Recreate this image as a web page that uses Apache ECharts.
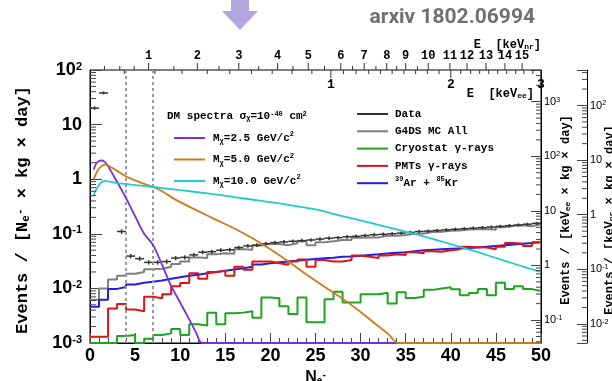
<!DOCTYPE html>
<html>
<head>
<meta charset="utf-8">
<script src="https://cdn.jsdelivr.net/npm/echarts@6/dist/echarts.min.js"></script>
<style>
  html, body { margin: 0; padding: 0; background: #fff; }
  #chart { width: 612px; height: 381px; }
</style>
</head>
<body>
<div id="chart"></div>
<script>
// ---- Binned spectra: bins of width 1 N_e- starting at each edge ----
const BIN_EDGES = [0,1,2,3,4,5,6,7,8,9,10,11,12,13,14,15,16,17,18,19,20,21,22,23,24,25,26,27,28,29,30,31,32,33,34,35,36,37,38,39,40,41,42,43,44,45,46,47,48,49];
const BIN_WIDTH = 1;

const DATA_VALS = [20, 38, null, 0.11, 0.039, 0.035, 0.030, 0.030, 0.031, 0.036, 0.037, 0.041, 0.046, 0.047, 0.050, 0.051, 0.056, 0.060, 0.062, 0.066, 0.069, 0.071, 0.073, 0.075, 0.077, 0.080, 0.083, 0.085, 0.088, 0.090, 0.093, 0.096, 0.098, 0.100, 0.103, 0.106, 0.110, 0.112, 0.115, 0.118, 0.121, 0.124, 0.127, 0.130, 0.133, 0.137, 0.141, 0.145, 0.150, 0.155];
const DATA_ERR = [0.6, 0.9, null, 0.006, 0.002, 0.002, 0.0015, 0.0015, 0.0015, 0.0017, 0.0017, 0.0018, 0.002, 0.002, 0.002, 0.002, 0.0022, 0.0023, 0.0023, 0.0024, 0.0025, 0.0025, 0.0026, 0.0026, 0.0027, 0.0027, 0.0028, 0.0028, 0.0029, 0.0029, 0.003, 0.003, 0.003, 0.0031, 0.0031, 0.0032, 0.0032, 0.0033, 0.0033, 0.0034, 0.0034, 0.0035, 0.0035, 0.0036, 0.0036, 0.0037, 0.0037, 0.0038, 0.0038, 0.0039];

const G4DS_ALL = [0.0062, 0.0100, 0.0145, 0.0170, 0.0185, 0.020, 0.0225, 0.023, 0.025, 0.028, 0.031, 0.037, 0.036, 0.042, 0.044, 0.043, 0.052, 0.051, 0.061, 0.066, 0.065, 0.062, 0.067, 0.073, 0.062, 0.070, 0.073, 0.077, 0.077, 0.085, 0.086, 0.086, 0.092, 0.092, 0.095, 0.100, 0.101, 0.108, 0.109, 0.114, 0.115, 0.120, 0.121, 0.123, 0.119, 0.132, 0.141, 0.143, 0.138, 0.149];
const CRYOSTAT = [0.001, 0.001, 0.001, 0.00135, 0.0014, 0.001, 0.0012, 0.0014, 0.0015, 0.0018, 0.0014, 0.0022, 0.0021, 0.0036, 0.0022, 0.0035, 0.0036, 0.0038, 0.0029, 0.0068, 0.0066, 0.0047, 0.0034, 0.0068, 0.0024, 0.0024, 0.0063, 0.0087, 0.0055, 0.0055, 0.0078, 0.0078, 0.0083, 0.0053, 0.0085, 0.0067, 0.0070, 0.0094, 0.0100, 0.0105, 0.0096, 0.0075, 0.0082, 0.0097, 0.0075, 0.0127, 0.0097, 0.0110, 0.0097, 0.0090];
const PMTS = [0.0013, 0.0013, 0.0043, 0.0052, 0.0041, 0.0038, 0.0070, 0.0066, 0.0078, 0.011, 0.0125, 0.019, 0.015, 0.020, 0.021, 0.017, 0.025, 0.022, 0.031, 0.031, 0.029, 0.027, 0.031, 0.034, 0.025, 0.033, 0.031, 0.031, 0.033, 0.040, 0.038, 0.036, 0.040, 0.042, 0.041, 0.046, 0.044, 0.048, 0.047, 0.050, 0.052, 0.058, 0.057, 0.056, 0.052, 0.058, 0.068, 0.066, 0.060, 0.070];
const AR_KR = [0.0046, 0.0062, 0.0098, 0.0106, 0.0118, 0.0127, 0.0133, 0.0140, 0.0150, 0.0160, 0.0170, 0.0178, 0.0190, 0.0200, 0.0210, 0.0222, 0.0235, 0.0250, 0.0275, 0.0290, 0.0300, 0.0310, 0.0320, 0.0335, 0.0345, 0.0355, 0.0365, 0.0380, 0.0385, 0.0395, 0.041, 0.042, 0.0435, 0.045, 0.046, 0.048, 0.050, 0.051, 0.052, 0.053, 0.054, 0.055, 0.056, 0.058, 0.060, 0.062, 0.064, 0.066, 0.068, 0.070];

// ---- Dark matter signal spectra (sigma = 1e-40 cm^2) ----
const DM25_NE  = [0.4, 0.7, 1.0, 1.3, 1.6, 2.0, 2.5, 3.0, 4.0, 5.0, 6.0, 7.0, 8.0, 9.0, 10.0, 11.0, 11.8, 12.4, 50];
const DM25_VAL = [1.5, 1.95, 2.15, 2.2, 2.1, 1.75, 1.25, 0.9, 0.45, 0.21, 0.1, 0.062, 0.027, 0.011, 0.0055, 0.0027, 0.0015, 0.001, 0.001];
const DM50_NE  = [0.4, 0.8, 1.2, 1.7, 2.5, 3, 4, 5, 6, 7, 8, 9, 10, 12, 14, 16, 18, 20, 22, 24, 26, 28, 30, 32, 33, 34.2, 50];
const DM50_VAL = [1.0, 1.4, 1.7, 1.85, 1.6, 1.42, 1.12, 0.95, 0.82, 0.72, 0.6, 0.47, 0.38, 0.26, 0.18, 0.125, 0.083, 0.052, 0.031, 0.018, 0.0107, 0.0065, 0.0037, 0.002, 0.0015, 0.001, 0.001];
const DM100_NE  = [0.4, 0.8, 1.2, 1.7, 2.5, 3, 4, 5, 6, 7, 10, 13, 16, 19, 22, 25, 28, 31, 34, 37, 40, 43, 46, 48, 50];
const DM100_VAL = [0.5, 0.7, 0.86, 0.93, 0.88, 0.85, 0.82, 0.78, 0.75, 0.72, 0.63, 0.55, 0.47, 0.4, 0.34, 0.28, 0.21, 0.16, 0.12, 0.09, 0.065, 0.046, 0.032, 0.025, 0.02];

// ---- Secondary energy scales along the top edge (tick value -> N_e- position) ----
const KEVNR_LABELS = [1, 2, 3, 4, 5, 6, 7, 8, 9, 10, 11, 12, 13, 14, 15];
const KEVNR_NE     = [6.5, 11.9, 16.5, 20.8, 24.2, 27.8, 30.4, 32.9, 35.0, 37.5, 39.9, 41.8, 43.9, 46.0, 47.9];
const KEVNR_MINOR_NE = [1.6, 3.3, 4.9, 9.3, 14.3, 18.7, 22.5, 26.0, 29.1, 31.7, 34.0, 36.3];
const KEVEE_LABELS = [1, 2, 3];
const KEVEE_NE     = [26.7, 40.0, 50.0];
const KEVEE_MINOR_NE = [3.8, 7.2, 10.2, 13.0, 15.5, 17.9, 20.2, 22.4, 24.6,
                        28.1, 29.5, 30.9, 32.2, 33.5, 34.8, 36.1, 37.4, 38.7,
                        41.1, 42.2, 43.2, 44.2, 45.2, 46.2, 47.2, 48.1, 49.1];

// ---- Threshold markers ----
const THRESHOLDS_NE = [4, 7];

// ---- Right-hand axis ranges (log10 of the values at the bottom / top of the frame) ----
const KEVEE_LOG_RANGE = [-1.42, 3.58];
const KEVNR_LOG_RANGE = [-2.35, 2.65];

const Y_MIN = 0.001, Y_MAX = 100, X_MIN = 0, X_MAX = 50;
const RIGHT2_OFFSET = 46;

const MONO = '"Liberation Mono", "DejaVu Sans Mono", monospace';
const SANS = '"Liberation Sans", Arial, sans-serif';

function stepData(vals) {
  const d = vals.map((v, i) => [BIN_EDGES[i], v]);
  d.push([BIN_EDGES[BIN_EDGES.length - 1] + BIN_WIDTH, vals[vals.length - 1]]);
  return d;
}
function pairs(xs, ys) { return xs.map((x, i) => [x, ys[i]]); }
function logMinor(lo, hi) {
  const out = [];
  for (let e = Math.floor(Math.log10(lo)); e <= Math.ceil(Math.log10(hi)); e++) {
    for (let m = 2; m <= 9; m++) {
      const v = m * Math.pow(10, e);
      if (v > lo * 1.0001 && v < hi * 0.9999) out.push(v);
    }
  }
  return out;
}
function powLabel(v) {
  const l = Math.log10(v);
  const r = Math.round(l);
  if (Math.abs(l - r) > 1e-6) return '';
  if (r === 0) return '1';
  if (r === 1) return '10';
  return '10{sup|' + r + '}';
}

const chart = echarts.init(document.getElementById('chart'), null, { renderer: 'canvas' });

const histLine = (name, vals, color, width) => ({
  name, type: 'line', step: 'end', data: stepData(vals), symbol: 'none',
  lineStyle: { color, width }, itemStyle: { color }, clip: true, silent: true, z: 3
});
const curve = (name, xs, ys, color) => ({
  name, type: 'line', data: pairs(xs, ys), symbol: 'none', smooth: 0.25,
  lineStyle: { color, width: 1.8 }, itemStyle: { color }, clip: true, silent: true, z: 5
});

function minorTickSeries(yIndex, values, xPixOffset, len) {
  return {
    type: 'custom', yAxisIndex: yIndex, silent: true, clip: false, z: 6,
    data: values.map(v => [yIndex === 0 ? X_MIN : X_MAX, v]),
    renderItem(params, api) {
      const p = api.coord([api.value(0), api.value(1)]);
      const x = p[0] + xPixOffset;
      const dir = yIndex === 0 ? 1 : -1;
      return { type: 'line', shape: { x1: x, y1: p[1], x2: x + dir * len, y2: p[1] },
               style: { stroke: '#444', lineWidth: 1 } };
    }
  };
}
function topTickSeries(positions, len) {
  return {
    type: 'custom', silent: true, clip: false, z: 6,
    data: positions.map(ne => [ne, Y_MAX]),
    renderItem(params, api) {
      const p = api.coord([api.value(0), api.value(1)]);
      return { type: 'line', shape: { x1: p[0], y1: p[1], x2: p[0], y2: p[1] + len }, style: { stroke: '#333', lineWidth: 1 } };
    }
  };
}

const supStyle = (size, font, weight) => ({ fontSize: size, fontFamily: font, fontWeight: weight, verticalAlign: 'top' });

const option = {
  animation: false,
  backgroundColor: '#fff',
  grid: { left: 90, right: 71, top: 70, bottom: 38, outerBoundsMode: 'none', containLabel: false,
          show: true, borderColor: '#000', borderWidth: 1, backgroundColor: 'transparent' },
  xAxis: {
    type: 'value', min: X_MIN, max: X_MAX, interval: 5,
    axisLine: { lineStyle: { color: '#000', width: 1 } },
    axisTick: { inside: true, length: 10, lineStyle: { color: '#444' } },
    minorTick: { show: true, splitNumber: 5, length: 5, lineStyle: { color: '#444' } },
    splitLine: { show: false },
    axisLabel: { color: '#000', fontFamily: SANS, fontWeight: 'bold', fontSize: 18, margin: 4 },
    name: 'N{sub|e}{sup|-}', nameLocation: 'middle', nameGap: 23,
    nameTextStyle: { color: '#000', fontFamily: SANS, fontWeight: 'bold', fontSize: 16,
      rich: { sub: { fontSize: 10, fontWeight: 'bold', fontFamily: SANS, verticalAlign: 'bottom', padding: [6, 0, 0, 0] },
              sup: supStyle(10, SANS, 'bold') } }
  },
  yAxis: [
    {
      type: 'log', logBase: 10, min: Y_MIN, max: Y_MAX,
      axisLine: { show: true, lineStyle: { color: '#000' } },
      axisTick: { inside: true, length: 12, lineStyle: { color: '#444' } },
      splitLine: { show: false },
      axisLabel: { formatter: powLabel, color: '#000', fontFamily: SANS, fontWeight: 'bold', fontSize: 18, margin: 8,
        rich: { sup: Object.assign(supStyle(11, SANS, 'bold'), { padding: [0, 0, 6, 0] }) } }
    },
    {
      type: 'log', logBase: 10, position: 'right', offset: 0,
      min: Math.pow(10, KEVEE_LOG_RANGE[0]), max: Math.pow(10, KEVEE_LOG_RANGE[1]),
      axisLine: { show: true, lineStyle: { color: '#000' } },
      axisTick: { inside: true, length: 10, lineStyle: { color: '#444' } },
      splitLine: { show: false },
      axisLabel: { formatter: powLabel, color: '#000', fontFamily: SANS, fontSize: 11, margin: 3,
        rich: { sup: supStyle(7, SANS, 'normal') } }
    },
    {
      type: 'log', logBase: 10, position: 'right', offset: RIGHT2_OFFSET,
      min: Math.pow(10, KEVNR_LOG_RANGE[0]), max: Math.pow(10, KEVNR_LOG_RANGE[1]),
      axisLine: { show: true, lineStyle: { color: '#000' } },
      axisTick: { inside: true, length: 10, lineStyle: { color: '#444' } },
      splitLine: { show: false },
      axisLabel: { formatter: powLabel, color: '#000', fontFamily: SANS, fontSize: 11, margin: 3,
        rich: { sup: supStyle(7, SANS, 'normal') } }
    }
  ],
  legend: [
    {
      data: [{ name: 'm25', icon: 'rect' }, { name: 'm50', icon: 'rect' }, { name: 'm100', icon: 'rect' }],
      orient: 'vertical', left: 169, top: 126, itemWidth: 31, itemHeight: 2, itemGap: 7.5,
      selectedMode: false,
      formatter: n => ({ m25: 'M{sub|χ}=2.5 GeV/c{sup|2}', m50: 'M{sub|χ}=5.0 GeV/c{sup|2}', m100: 'M{sub|χ}=10.0 GeV/c{sup|2}' })[n],
      textStyle: { color: '#000', fontFamily: MONO, fontWeight: 'bold', fontSize: 11, lineHeight: 14, padding: [0, 0, 0, 3],
        rich: { sub: { fontSize: 7, fontWeight: 'bold', fontFamily: MONO, verticalAlign: 'bottom', lineHeight: 14 },
                sup: { fontSize: 7, fontWeight: 'bold', fontFamily: MONO, verticalAlign: 'top', lineHeight: 14 } } }
    },
    {
      data: [{ name: 'data', icon: 'rect' }, { name: 'g4ds', icon: 'rect' }, { name: 'cryo', icon: 'rect' },
             { name: 'pmts', icon: 'rect' }, { name: 'arkr', icon: 'rect' }],
      orient: 'vertical', left: 352, top: 102, itemWidth: 31, itemHeight: 2, itemGap: 3.3,
      selectedMode: false,
      formatter: n => ({ data: 'Data', g4ds: 'G4DS MC All', cryo: 'Cryostat γ-rays', pmts: 'PMTs γ-rays', arkr: '{sup|39}Ar + {sup|85}Kr' })[n],
      textStyle: { color: '#000', fontFamily: MONO, fontWeight: 'bold', fontSize: 11, lineHeight: 14, padding: [0, 0, 0, 2],
        rich: { sup: { fontSize: 7, fontWeight: 'bold', fontFamily: MONO, verticalAlign: 'top', lineHeight: 14 } } }
    }
  ],
  graphic: [
    { type: 'polygon', silent: true,
      shape: { points: [[231, 0], [249, 0], [249, 11], [258, 11], [240, 30], [222, 11], [231, 11]] },
      style: { fill: '#b3a6e0' } },
    { type: 'text', silent: true, right: 77, top: 7,
      style: { text: 'arxiv 1802.06994', fill: '#707070', font: 'bold 21px Roboto, "Open Sans", sans-serif' } },
    { type: 'text', silent: true, right: 71, top: 39,
      style: { text: 'E  [keV{sub|nr}]', fill: '#000', font: 'bold 12px ' + MONO,
        rich: { sub: { font: 'bold 8px ' + MONO, verticalAlign: 'bottom' } } } },
    { type: 'text', silent: true, right: 78, top: 88,
      style: { text: 'E  [keV{sub|ee}]', fill: '#000', font: 'bold 12px ' + MONO,
        rich: { sub: { font: 'bold 8px ' + MONO, verticalAlign: 'bottom' } } } },
    { type: 'text', silent: true, left: 167, top: 111,
      style: { text: 'DM spectra σ{sub|χ}=10{sup|-40} cm{sup|2}', fill: '#000', font: 'bold 11px ' + MONO,
        rich: { sub: { font: 'bold 7px ' + MONO, verticalAlign: 'bottom' },
                sup: { font: 'bold 7px ' + MONO, verticalAlign: 'top' } } } },
    // vertical axis titles
    { type: 'text', silent: true, x: 23, y: 210, rotation: Math.PI / 2,
      style: { text: 'Events / [N{sub|e}{sup|-} × kg × day]', fill: '#000', font: 'bold 17px ' + MONO,
        align: 'center', verticalAlign: 'middle',
        rich: { sub: { font: 'bold 11px ' + MONO, verticalAlign: 'bottom' }, sup: { font: 'bold 11px ' + MONO, verticalAlign: 'top' } } } },
    { type: 'text', silent: true, x: 566, y: 210, rotation: Math.PI / 2,
      style: { text: 'Events / [keV{sub|ee} × kg × day]', fill: '#000', font: 'bold 12px ' + MONO,
        align: 'center', verticalAlign: 'middle',
        rich: { sub: { font: 'bold 8px ' + MONO, verticalAlign: 'bottom' } } } },
    { type: 'text', silent: true, x: 610, y: 220, rotation: Math.PI / 2,
      style: { text: 'Events / [keV{sub|nr} × kg × day]', fill: '#000', font: 'bold 12px ' + MONO,
        align: 'center', verticalAlign: 'middle',
        rich: { sub: { font: 'bold 8px ' + MONO, verticalAlign: 'bottom' } } } }
  ],
  series: [
    {
      name: 'g4ds', type: 'line', step: 'end', data: stepData(G4DS_ALL), symbol: 'none',
      lineStyle: { color: '#7f7f7f', width: 2 }, itemStyle: { color: '#7f7f7f' }, clip: true, silent: true, z: 3,
      markLine: {
        silent: true, symbol: 'none', label: { show: false },
        lineStyle: { color: '#9a9a9a', type: [3, 3], width: 2 },
        data: THRESHOLDS_NE.map(x => ({ xAxis: x }))
      }
    },
    histLine('cryo', CRYOSTAT, '#1ea51e', 2),
    histLine('arkr', AR_KR, '#1f1fe8', 2),
    histLine('pmts', PMTS, '#dd1515', 2),
    {
      name: 'data', type: 'custom', silent: true, clip: true, z: 4,
      itemStyle: { color: '#333' },
      data: BIN_EDGES.map((x, i) => [x, DATA_VALS[i], DATA_ERR[i]]).filter(d => d[1] != null),
      renderItem(params, api) {
        const x0 = api.value(0), v = api.value(1), e = api.value(2);
        const a = api.coord([x0, v]), b = api.coord([x0 + BIN_WIDTH, v]);
        const c = api.coord([x0 + BIN_WIDTH / 2, v + e]), d = api.coord([x0 + BIN_WIDTH / 2, v - e]);
        return { type: 'group', children: [
          { type: 'line', shape: { x1: a[0], y1: a[1], x2: b[0], y2: b[1] }, style: { stroke: '#333', lineWidth: 1.5 } },
          { type: 'line', shape: { x1: c[0], y1: c[1] - 1, x2: d[0], y2: d[1] + 1 }, style: { stroke: '#333', lineWidth: 1.5 } }
        ] };
      }
    },
    curve('m25', DM25_NE, DM25_VAL, '#7a2ee0'),
    curve('m50', DM50_NE, DM50_VAL, '#d07a1e'),
    curve('m100', DM100_NE, DM100_VAL, '#20cccc'),
    // log minor ticks on the three vertical scales
    minorTickSeries(0, logMinor(Y_MIN, Y_MAX), 0, 6),
    minorTickSeries(1, logMinor(Math.pow(10, KEVEE_LOG_RANGE[0]), Math.pow(10, KEVEE_LOG_RANGE[1])), 0, 5),
    minorTickSeries(2, logMinor(Math.pow(10, KEVNR_LOG_RANGE[0]), Math.pow(10, KEVNR_LOG_RANGE[1])), RIGHT2_OFFSET, 5),
    // nuclear-recoil energy scale, ticks pointing up out of the frame
    {
      type: 'custom', silent: true, clip: false, z: 6,
      data: KEVNR_NE.map((ne, i) => [ne, Y_MAX, KEVNR_LABELS[i]]),
      renderItem(params, api) {
        const p = api.coord([api.value(0), api.value(1)]);
        return { type: 'group', children: [
          { type: 'line', shape: { x1: p[0], y1: p[1], x2: p[0], y2: p[1] - 7 }, style: { stroke: '#333', lineWidth: 1 } },
          { type: 'text', x: p[0], y: p[1] - 8, style: { text: String(api.value(2)), font: 'bold 12px ' + MONO, fill: '#000', align: 'center', verticalAlign: 'bottom' } }
        ] };
      }
    },
    topTickSeries(KEVNR_MINOR_NE, -4),
    // electron-equivalent energy scale, ticks pointing down into the frame
    {
      type: 'custom', silent: true, clip: false, z: 6,
      data: KEVEE_NE.map((ne, i) => [ne, Y_MAX, KEVEE_LABELS[i]]),
      renderItem(params, api) {
        const p = api.coord([api.value(0), api.value(1)]);
        return { type: 'group', children: [
          { type: 'line', shape: { x1: p[0], y1: p[1], x2: p[0], y2: p[1] + 8 }, style: { stroke: '#333', lineWidth: 1 } },
          { type: 'text', x: p[0], y: p[1] + 8, style: { text: String(api.value(2)), font: 'bold 13px ' + MONO, fill: '#000', align: 'center', verticalAlign: 'top' } }
        ] };
      }
    },
    topTickSeries(KEVEE_MINOR_NE, 4)
  ]
};

chart.setOption(option);
</script>
</body>
</html>
